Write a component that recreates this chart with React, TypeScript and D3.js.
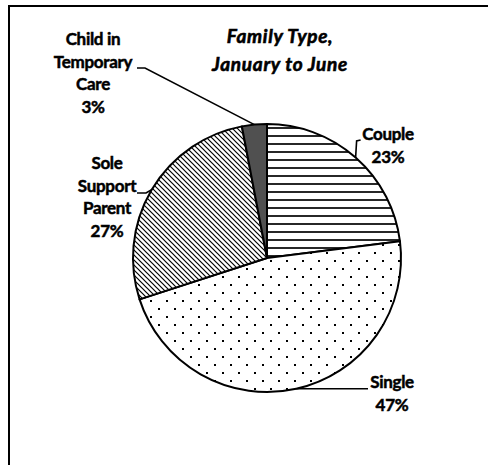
import React from "react";
import * as d3 from "d3";

const categories = ["Couple", "Single", "Sole Support Parent", "Child in Temporary Care"];
const values = [23, 47, 27, 3];
const labelLines = [["Couple"], ["Single"], ["Sole", "Support", "Parent"], ["Child in", "Temporary", "Care"]];
const titleLines = ["Family Type,", "January to June"];
const fills = ["url(#hlines)", "url(#dots)", "url(#diag)", "#505050"];

const W = 488;
const H = 465;
const cx = 267;
const cy = 258;
const R = 134;

// label layout: center x, first baseline y
const labelPos = [
  { x: 388, y: 140 },
  { x: 392, y: 388 },
  { x: 107, y: 169 },
  { x: 93, y: 45 },
];
const LH = 22.7;

export default function App() {
  const pie = d3.pie<number>().sort(null).value((d) => d);
  const arcs = pie(values);
  const arc = d3.arc<d3.PieArcDatum<number>>().innerRadius(0).outerRadius(R);

  const edge = (a: d3.PieArcDatum<number>) => {
    const m = (a.startAngle + a.endAngle) / 2;
    return [cx + R * Math.sin(m), cy - R * Math.cos(m)];
  };

  const leaders = arcs.map((a, i) => {
    const [ex, ey] = edge(a);
    let pts: [number, number][] = [];
    if (i === 0) pts = [[ex, ey], [ex + 1, 141], [ex + 5, 140]];
    if (i === 1) pts = [[ex, ey], [368, ey]];
    if (i === 2) pts = [[ex, ey], [146, 193], [137, 193]];
    if (i === 3) pts = [[ex, ey], [145, 68], [137, 68]];
    return d3.line()(pts) as string;
  });

  const labelFont = "Lato, 'Liberation Sans', sans-serif";

  return (
    <div style={{ position: "absolute", left: 0, top: 0 }}>
      <svg width={W} height={H} style={{ display: "block", background: "#fff" }}>
        <defs>
          <pattern id="hlines" width="8" height="8" patternUnits="userSpaceOnUse" y={2}>
            <rect width="8" height="8" fill="#fff" />
            <line x1="0" x2="8" y1="4" y2="4" stroke="#000" strokeWidth="1.7" />
          </pattern>
          <pattern id="diag" width="5" height="5" patternUnits="userSpaceOnUse">
            <rect width="5" height="5" fill="#fff" />
            <path d="M0,0 L5,5 M-1,4 L1,6 M4,-1 L6,1" stroke="#000" strokeWidth="1.2" />
          </pattern>
          <pattern id="dots" width="16" height="16" patternUnits="userSpaceOnUse" x={3} y={2}>
            <rect width="16" height="16" fill="#fff" />
            <rect x="0" y="0" width="2" height="2" fill="#000" />
            <rect x="8" y="8" width="2" height="2" fill="#000" />
          </pattern>
        </defs>

        {/* frame */}
        <path d={`M9,${H} L9,6 L${W},6`} fill="none" stroke="#000" strokeWidth={2} />

        {/* title */}
        <g fontFamily={labelFont} fontWeight="bold" fontStyle="italic" fontSize={19} textAnchor="middle" letterSpacing={0.7} stroke="#000" strokeWidth={0.6}>
          {titleLines.map((t, i) => (
            <text key={t} x={280} y={43 + i * 28}>
              {t}
            </text>
          ))}
        </g>

        {/* slices */}
        <g transform={`translate(${cx},${cy})`}>
          {arcs.map((a, i) => (
            <path key={categories[i]} d={arc(a) as string} fill={fills[i]} stroke="#000" strokeWidth={2} strokeLinejoin="round" />
          ))}
        </g>

        {/* leader lines */}
        {leaders.map((d, i) => (
          <path key={"l" + i} d={d} fill="none" stroke="#000" strokeWidth={1.6} />
        ))}

        {/* labels */}
        <g fontFamily={labelFont} fontWeight="bold" fontSize={17} textAnchor="middle" letterSpacing={-0.3} stroke="#000" strokeWidth={0.5}>
          {labelLines.map((lines, i) => (
            <text key={categories[i]}>
              {[...lines, `${values[i]}%`].map((t, j) => (
                <tspan key={j} x={labelPos[i].x} y={labelPos[i].y + j * LH}>
                  {t}
                </tspan>
              ))}
            </text>
          ))}
        </g>
      </svg>
    </div>
  );
}
